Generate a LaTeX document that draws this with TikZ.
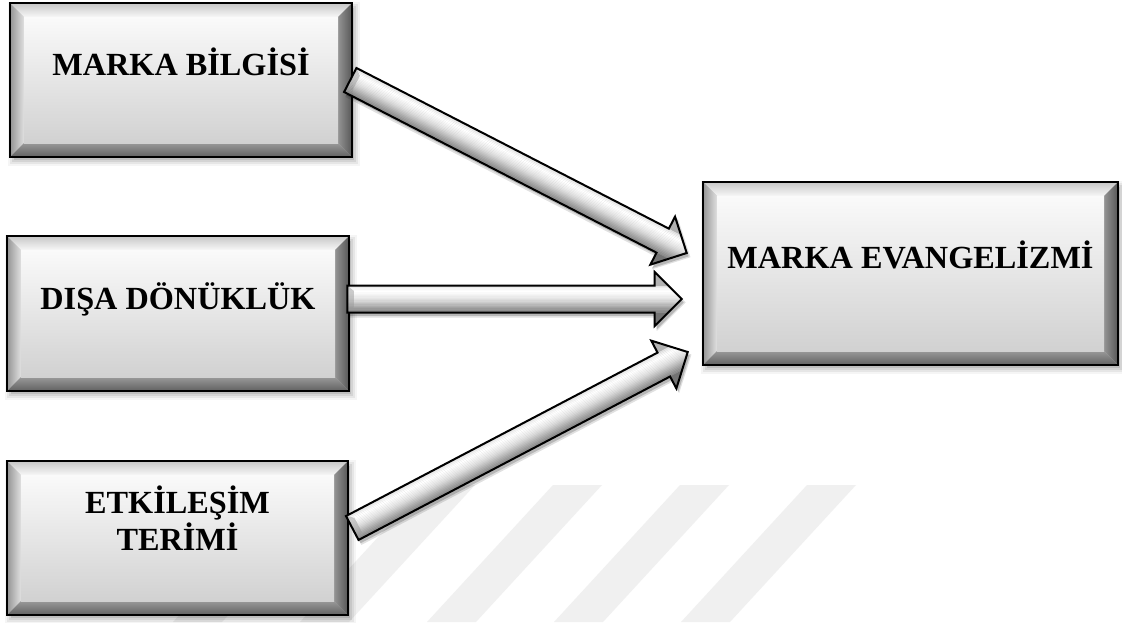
\documentclass[tikz,border=0pt]{standalone}
\usepackage{fontspec}
\setmainfont{Liberation Serif}
\usetikzlibrary{calc,fit}

\tikzset{
  lbltext/.style={font=\bfseries\fontsize{24.2}{27.6}\selectfont, text=black, inner sep=0pt, align=center},
  boxframe/.style={draw=black, line width=1.9pt},
  arrowoutline/.style={draw=black, line width=1.5pt, line join=miter, miter limit=10},
  watermark/.style={fill=black!6},
}

% Bevelled box: #1 name, (#2,#3) upper-left and (#4,#5) lower-right corner in px (y downwards)
\newcommand\bevelbox[5]{%
  \foreach \e/\o in {-1/0.10, 1/0.08, 3/0.06, 5/0.04}
    \fill[black, opacity=\o] ({#2+3-(\e)}, {#3+4-(\e)}) rectangle ({#4+3+(\e)}, {#5+4+(\e)});
  \shade[top color=black!22, bottom color=black!3]
    (#2,#3) -- (#4,#3) -- (#4-14,#3+14) -- (#2+14,#3+14) -- cycle;
  \shade[left color=black!42, right color=black!12]
    (#2,#3) -- (#2+14,#3+14) -- (#2+14,#5-14) -- (#2,#5) -- cycle;
  \shade[left color=black!42, right color=black!66]
    (#4,#3) -- (#4,#5) -- (#4-14,#5-14) -- (#4-14,#3+14) -- cycle;
  \shade[top color=black!40, bottom color=black!62]
    (#2,#5) -- (#4,#5) -- (#4-14,#5-14) -- (#2+14,#5-14) -- cycle;
  \shade[top color=black!2, bottom color=black!18] (#2+14,#3+14) rectangle (#4-14,#5-14);
  \draw[boxframe] (#2,#3) rectangle (#4,#5);
  \node[fit={(#2,#3) (#4,#5)}, inner sep=0pt] (#1) {};
}

% Bevelled block arrow from coordinate #1 (tail) to coordinate #2 (tip)
\newcommand\arrowpoly{(0,-10.125) -- (\arrneck,-10.125) -- (\arrneck,-20.25) -- (\arrlen,0) -- (\arrneck,20.25) -- (\arrneck,10.125) -- (0,10.125) -- cycle}
\newcommand\blockarrow[2]{%
  \path (#1); \pgfgetlastxy{\ax}{\ay}%
  \path (#2); \pgfgetlastxy{\bx}{\by}%
  \pgfmathsetmacro\arrang{atan2(\by-\ay,\bx-\ax)}%
  \pgfmathsetmacro\arrlen{veclen(\bx-\ax,\by-\ay)}%
  \pgfmathsetmacro\arrneck{\arrlen-20.25}%
  \begin{scope}[shift={(\ax,\ay)}, shift={(1.5pt,-2.5pt)}, rotate=\arrang, x=1pt, y=1pt]
    \fill[black, opacity=0.12] (0,-11.5) -- (\arrneck,-11.5) -- (\arrneck,-21.5) -- (\arrlen+1.5,0) -- (\arrneck,21.5) -- (\arrneck,11.5) -- (0,11.5) -- cycle;
    \fill[black, opacity=0.18] \arrowpoly;
  \end{scope}
  \begin{scope}[shift={(\ax,\ay)}, rotate=\arrang, x=1pt, y=1pt]
    \begin{scope}
      \clip \arrowpoly;
      \foreach \g [count=\i from 0] in {54,56,60,64,68,72,76,80,84,87,90,92,94,96,98,100,99,96,92,88}
        \fill[white!\g!black] (-2, {-10.125+\i*1.0125}) rectangle ({\arrlen+2}, {-10.125+(\i+1)*1.0125+0.05});
      \fill[black!30] (\arrneck-0.5, 10.125) rectangle (\arrlen+2, 22);
      \fill[black!55] (\arrneck-0.5, -22) rectangle (\arrlen+2, -10.125);
      \fill[black!40, opacity=0.5] (0,-10.125) -- (0,10.125) -- (5,6) -- (5,-6) -- cycle;
    \end{scope}
    \draw[arrowoutline] \arrowpoly;
  \end{scope}
}

\begin{document}
\begin{tikzpicture}[x=0.75pt, y=-0.75pt]
  \useasboundingbox (0,0) rectangle (1122,622);
  \fill[white] (0,0) rectangle (1122,622);

  % faint diagonal stripes in the lower part of the page
  \foreach \t in {299,426,553,680,807}
    \fill[watermark] (\t,485) -- (\t+49,485) -- (\t-77,622) -- (\t-126,622) -- cycle;

  % boxes
  \bevelbox{bilgi}{10}{3}{352}{157}
  \bevelbox{disa}{7}{236}{349}{391}
  \bevelbox{etk}{7}{461}{348}{615}
  \bevelbox{evang}{703}{182}{1118}{365}

  % arrow end points
  \coordinate (a1s) at ($(bilgi.east)+(-2,0)$);
  \coordinate (a1e) at ($(evang.west)+(-16,-20.5)$);
  \coordinate (a2s) at ($(disa.east)+(-2,-14.5)$);
  \coordinate (a2e) at ($(evang.west)+(-21,25.5)$);
  \coordinate (a3s) at ($(etk.east)+(4,-10)$);
  \coordinate (a3e) at ($(evang.west)+(-15,78.5)$);

  \blockarrow{a1s}{a1e}
  \blockarrow{a2s}{a2e}
  \blockarrow{a3s}{a3e}

  % labels
  \node[lbltext, anchor=base] (bilgi-t) at ($(bilgi.center)+(0,-5)$) {MARKA BİLGİSİ};
  \node[lbltext, anchor=base] (disa-t) at ($(disa.center)+(0,-4)$) {DIŞA DÖNÜKLÜK};
  \node[lbltext, anchor=center] (etk-t) at ($(etk.center)+(0,-20)$) {ETKİLEŞİM\\TERİMİ};
  \node[lbltext, anchor=base] (evang-t) at ($(evang.center)+(0,-5)$) {MARKA EVANGELİZMİ};
\end{tikzpicture}
\end{document}
